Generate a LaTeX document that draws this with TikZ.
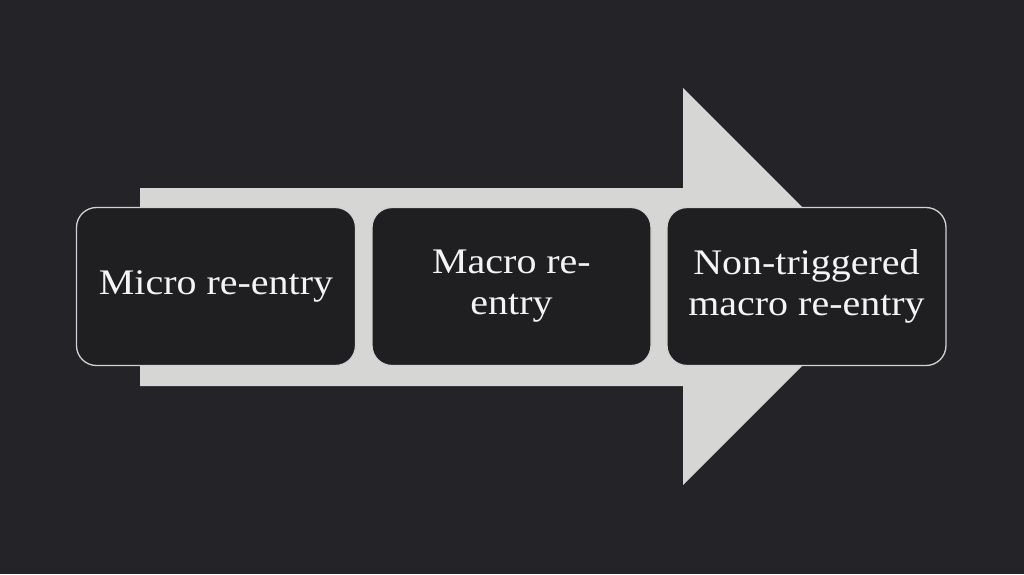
\documentclass[tikz,border=0pt]{standalone}
\usepackage{fontspec}
\setmainfont{Liberation Serif}[FakeStretch=1.11]
\definecolor{bgc}{HTML}{242428}
\definecolor{arrowc}{HTML}{D6D6D4}
\definecolor{boxc}{HTML}{1F1F22}
\definecolor{edgec}{HTML}{D2D2D2}
\definecolor{textc}{HTML}{F4F4F4}
\tikzset{
  stagebox/.style={draw=edgec, line width=1.3pt, fill=boxc, rounded corners=20pt,
    minimum width=279pt, minimum height=158pt, inner sep=0pt, align=center,
    text=textc, font=\fontsize{36}{41}\selectfont}
}
\begin{document}
\begin{tikzpicture}[x=1pt,y=-1pt]
\useasboundingbox (0,0) rectangle (1024,574);
\fill[bgc] (0,0) rectangle (1024,574);
\fill[arrowc] (140,188) -- (683,188) -- (683,88) -- (881.5,286.5) -- (683,485) -- (683,386) -- (140,386) -- cycle;
\node[stagebox] (b1) at (216,286.5) {Micro re-entry};
\node[stagebox] (b2) at (511.5,286.5) {Macro re-\\entry};
\node[stagebox] (b3) at (806.5,286.5) {Non-triggered\\macro re-entry};
\end{tikzpicture}
\end{document}
